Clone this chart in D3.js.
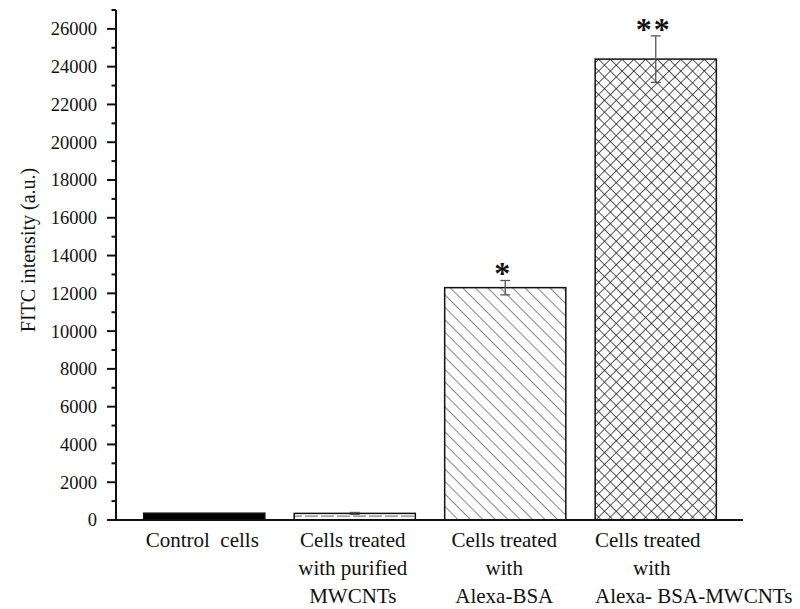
<!DOCTYPE html>
<html>
<head>
<meta charset="utf-8">
<script src="https://cdn.jsdelivr.net/npm/d3@7"></script>
<style>
  body { margin: 0; background: #fff; }
  svg { display: block; }
  text { font-family: "Liberation Serif", "Times New Roman", serif; fill: #111; white-space: pre; }
</style>
</head>
<body>
<svg id="chart" width="800" height="609"></svg>
<script>
// ---- data ----
const categories = ["Control cells", "Cells treated with purified MWCNTs", "Cells treated with Alexa-BSA", "Cells treated with Alexa- BSA-MWCNTs"];
const labelLines = [
  ["Control  cells"],
  ["Cells treated", "with purified", "MWCNTs"],
  ["Cells treated", "with", "Alexa-BSA"],
  ["Cells treated", "with", "Alexa- BSA-MWCNTs"]
];
const means = [360, 350, 12300, 24400];
const errors = [0, 50, 380, 1230];
const significance = ["", "", "*", "**"];
const yTicks = [0, 2000, 4000, 6000, 8000, 10000, 12000, 14000, 16000, 18000, 20000, 22000, 24000, 26000];
const yMinorTicks = [1000, 3000, 5000, 7000, 9000, 11000, 13000, 15000, 17000, 19000, 21000, 23000, 25000, 27000];
const fills = ["solid", "dash", "diag", "cross"];
const yTitle = "FITC intensity (a.u.)";

// ---- layout ----
const svg = d3.select("#chart");
const axisX = 116, baseY = 520, topY = 10, xEnd = 743;

const y = d3.scaleLinear().domain([0, 27000]).range([baseY, topY]);
const x = d3.scaleBand().domain(categories).range([129, 731]).paddingInner(0.195).paddingOuter(0.0975);

// patterns
const defs = svg.append("defs");
const pd = defs.append("pattern").attr("id", "dash").attr("patternUnits", "userSpaceOnUse")
  .attr("width", 16).attr("height", 3.5);
pd.append("line").attr("x1", 1).attr("x2", 14).attr("y1", 1.75).attr("y2", 1.75)
  .attr("stroke", "#555").attr("stroke-width", 1);

const pg = defs.append("pattern").attr("id", "diag").attr("patternUnits", "userSpaceOnUse")
  .attr("width", 8.8).attr("height", 10).attr("patternTransform", "rotate(-45)");
pg.append("line").attr("x1", 0).attr("x2", 0).attr("y1", 0).attr("y2", 10)
  .attr("stroke", "#333").attr("stroke-width", 1.2);

const pc = defs.append("pattern").attr("id", "cross").attr("patternUnits", "userSpaceOnUse")
  .attr("width", 8.3).attr("height", 8.3).attr("patternTransform", "rotate(45)");
pc.append("line").attr("x1", 0).attr("x2", 0).attr("y1", 0).attr("y2", 8.3)
  .attr("stroke", "#222").attr("stroke-width", 1.5);
pc.append("line").attr("x1", 0).attr("x2", 8.3).attr("y1", 0).attr("y2", 0)
  .attr("stroke", "#222").attr("stroke-width", 1.5);

// bars
const data = categories.map((c, i) => ({ c, v: means[i], e: errors[i], s: significance[i], f: fills[i], lines: labelLines[i] }));

const bars = svg.append("g");
bars.selectAll("rect").data(data).join("rect")
  .attr("x", d => x(d.c))
  .attr("y", d => y(d.v))
  .attr("width", x.bandwidth())
  .attr("height", d => baseY - y(d.v))
  .attr("fill", d => d.f === "solid" ? "#000" : `url(#${d.f})`)
  .attr("stroke", "#111")
  .attr("stroke-width", 1.5);

// error bars
const eb = svg.append("g").attr("stroke", "#555").attr("stroke-width", 1.3);
data.filter(d => d.e > 0).forEach(d => {
  const cx = x(d.c) + x.bandwidth() / 2;
  eb.append("line").attr("x1", cx).attr("x2", cx).attr("y1", y(d.v + d.e)).attr("y2", y(d.v - d.e));
  eb.append("line").attr("x1", cx - 5).attr("x2", cx + 5).attr("y1", y(d.v + d.e)).attr("y2", y(d.v + d.e));
  eb.append("line").attr("x1", cx - 5).attr("x2", cx + 5).attr("y1", y(d.v - d.e)).attr("y2", y(d.v - d.e));
});

// significance stars
svg.append("g").selectAll("text").data(data.filter(d => d.s)).join("text")
  .attr("x", d => x(d.c) + x.bandwidth() / 2 - 2)
  .attr("y", d => y(d.v + d.e) + 4)
  .attr("text-anchor", "middle")
  .attr("font-size", 32)
  .attr("font-weight", "bold")
  .attr("letter-spacing", 2)
  .text(d => d.s);

// y axis
const yAxis = svg.append("g").attr("transform", `translate(${axisX},0)`);
yAxis.append("line").attr("x1", 0).attr("x2", 0).attr("y1", topY).attr("y2", baseY)
  .attr("stroke", "#111").attr("stroke-width", 2);
yAxis.selectAll(".maj").data(yTicks).join("line").attr("class", "maj")
  .attr("x1", -9).attr("x2", 0).attr("y1", d => y(d)).attr("y2", d => y(d))
  .attr("stroke", "#111").attr("stroke-width", 2);
yAxis.selectAll(".min").data(yMinorTicks).join("line").attr("class", "min")
  .attr("x1", -4.5).attr("x2", 0).attr("y1", d => y(d)).attr("y2", d => y(d))
  .attr("stroke", "#111").attr("stroke-width", 2);
yAxis.selectAll("text").data(yTicks).join("text")
  .attr("x", -19).attr("y", d => y(d)).attr("dy", "0.35em")
  .attr("text-anchor", "end").attr("font-size", 18.5)
  .text(d => d);

// x axis baseline
svg.append("line").attr("x1", axisX).attr("x2", xEnd).attr("y1", baseY).attr("y2", baseY)
  .attr("stroke", "#111").attr("stroke-width", 2);

// category labels
const lg = svg.append("g");
const labelShift = [-2, -2, -1, -8];
data.forEach((d, i) => {
  const cx = x(d.c) + x.bandwidth() / 2 + labelShift[i];
  let firstLeft = null;
  d.lines.forEach((t, j) => {
    const txt = lg.append("text").attr("font-size", 21).attr("y", 547 + j * 28).text(t);
    if (i === 3 && j === 2) {
      txt.attr("x", firstLeft).attr("text-anchor", "start");
    } else {
      txt.attr("x", (i === 3 && j === 1) ? cx + 4 : cx).attr("text-anchor", "middle");
      if (j === 0) firstLeft = cx - txt.node().getComputedTextLength() / 2;
    }
  });
});

// y title
svg.append("text")
  .attr("transform", `translate(35,250) rotate(-90)`)
  .attr("text-anchor", "middle")
  .attr("font-size", 20)
  .text(yTitle);
</script>
</body>
</html>
